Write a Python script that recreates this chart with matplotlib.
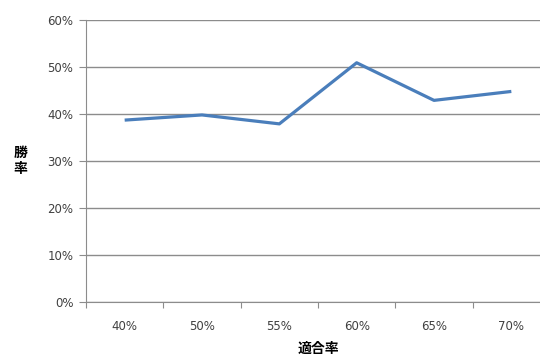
import matplotlib
matplotlib.use('Agg')
from matplotlib import pyplot as plt
from matplotlib.ticker import FixedLocator, NullFormatter, FixedFormatter

plt.rcParams['font.family'] = ['DejaVu Sans', 'Noto Sans CJK JP']

categories = ['40%', '50%', '55%', '60%', '65%', '70%']
win_rate = [38.7, 39.8, 37.9, 50.9, 42.9, 44.8]
y_ticks = [0, 10, 20, 30, 40, 50, 60]

fig = plt.figure(figsize=(5.4, 3.58), dpi=100)
ax = fig.add_axes([86/540, 56/358, 464/540, 282/358])

xs = [i + 0.5 for i in range(len(categories))]
ax.plot(xs, win_rate, color='#4A7EBB', linewidth=2.3, solid_capstyle='butt')

ax.set_xlim(0, len(categories))
ax.set_ylim(0, 60)
ax.set_yticks(y_ticks)
ax.set_yticklabels(['%d%%' % v for v in y_ticks])
ax.yaxis.grid(True, color='#8c8c8c', linewidth=1)
ax.set_axisbelow(True)

ax.xaxis.set_major_locator(FixedLocator(range(len(categories) + 1)))
ax.xaxis.set_major_formatter(NullFormatter())
ax.xaxis.set_minor_locator(FixedLocator(xs))
ax.xaxis.set_minor_formatter(FixedFormatter(categories))
ax.tick_params(axis='x', which='minor', length=0, pad=13)
ax.tick_params(axis='x', which='major', length=4, color='#8c8c8c')
ax.tick_params(axis='y', length=5, color='#8c8c8c', pad=4)
ax.tick_params(axis='both', which='both', labelsize=8.5, labelcolor='#404040')

for side in ['top', 'right']:
    ax.spines[side].set_visible(False)
for side in ['left', 'bottom']:
    ax.spines[side].set_color('#8c8c8c')

ax.set_ylabel('勝\n率', rotation=0, fontsize=10, fontweight='bold',
              family=['Noto Sans CJK JP'], linespacing=1.1, va='center', ha='center')
ax.yaxis.set_label_coords(-0.142, 0.5)
ax.set_xlabel('適合率', fontsize=10, fontweight='bold', family=['Noto Sans CJK JP'],
              va='center')
ax.xaxis.set_label_coords(0.5, -0.165)

plt.savefig('out.png', dpi=100)
